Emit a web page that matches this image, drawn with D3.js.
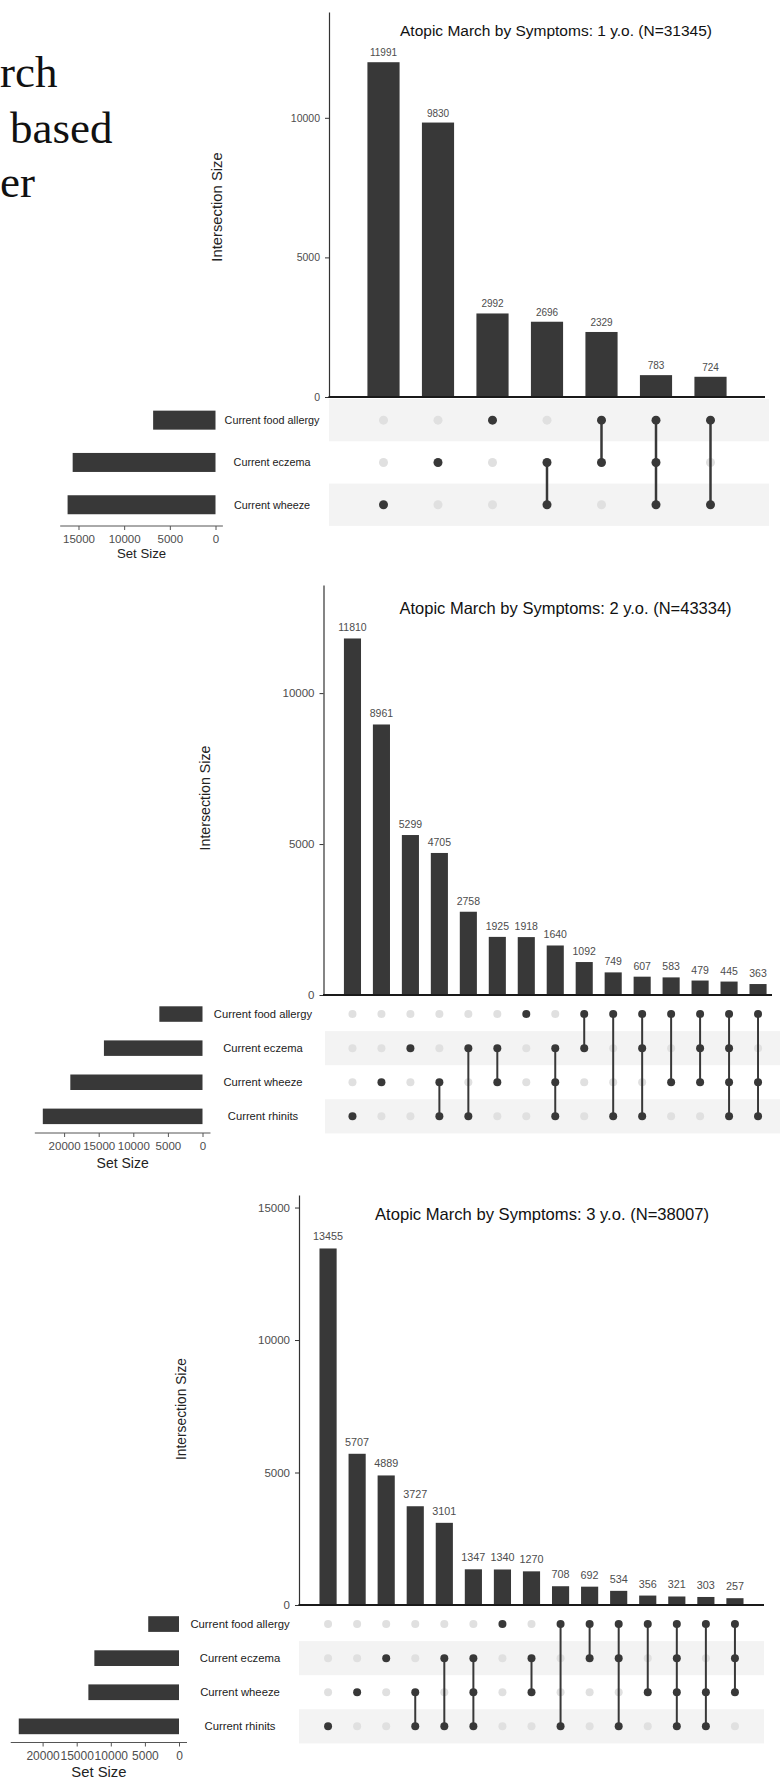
<!DOCTYPE html>
<html><head><meta charset="utf-8">
<script src="https://cdn.jsdelivr.net/npm/d3@7"></script>
<style>
body{margin:0;background:#fff}
svg{display:block}
text{font-family:"Liberation Sans",Arial,Helvetica,sans-serif}
</style>
</head><body>
<svg id="chart" width="780" height="1779"></svg>
<script>
// ---------- Data ----------
// Slide text fragments visible at the top-left
const slideText = ["rch", "based", "er"];

// Panel 1: 1 y.o.
const title1 = "Atopic March by Symptoms: 1 y.o. (N=31345)";
const setNames1 = ["Current food allergy", "Current eczema", "Current wheeze"];
const setKeys1 = ["F", "E", "W"];
const setSizes1 = [6828, 15638, 16194];
const combos1 = ["W", "E", "F", "EW", "FE", "FEW", "FW"];
const counts1 = [11991, 9830, 2992, 2696, 2329, 783, 724];
const yTicks1 = [0, 5000, 10000];
const setTicks1 = [0, 5000, 10000, 15000];

// Panel 2: 2 y.o.
const title2 = "Atopic March by Symptoms: 2 y.o. (N=43334)";
const setNames2 = ["Current food allergy", "Current eczema", "Current wheeze", "Current rhinits"];
const setKeys2 = ["F", "E", "W", "R"];
const setSizes2 = [6236, 14245, 19101, 23077];
const combos2 = ["R", "W", "E", "WR", "ER", "EW", "F", "EWR", "FE", "FR", "FER", "FW", "FEW", "FEWR", "FWR"];
const counts2 = [11810, 8961, 5299, 4705, 2758, 1925, 1918, 1640, 1092, 749, 607, 583, 479, 445, 363];
const yTicks2 = [0, 5000, 10000];
const setTicks2 = [0, 5000, 10000, 15000, 20000];

// Panel 3: 3 y.o.
const title3 = "Atopic March by Symptoms: 3 y.o. (N=38007)";
const setNames3 = ["Current food allergy", "Current eczema", "Current wheeze", "Current rhinits"];
const setKeys3 = ["F", "E", "W", "R"];
const setSizes3 = [4511, 12411, 13288, 23496];
const combos3 = ["R", "W", "E", "WR", "ER", "EWR", "F", "EW", "FR", "FE", "FER", "FW", "FEWR", "FWR", "FEW"];
const counts3 = [13455, 5707, 4889, 3727, 3101, 1347, 1340, 1270, 708, 692, 534, 356, 321, 303, 257];
const yTicks3 = [0, 5000, 10000, 15000];
const setTicks3 = [0, 5000, 10000, 15000, 20000];

// ---------- Drawing ----------
const svg = d3.select("#chart");
const DARK = "#383838", LIGHT = "#e0e0e0", STRIPE = "#f3f3f3", GREY_TXT = "#4d4d4d";

// slide fragments
const slideG = svg.append("g");
slideG.selectAll("text").data(slideText).join("text")
  .attr("x", (d, i) => [0, 10, 0][i])
  .attr("y", (d, i) => [87, 143, 197][i])
  .style("font-family", "'Liberation Serif','Times New Roman',serif")
  .attr("font-size", 45).attr("fill", "#111").text(d => d);

function drawPanel(D, L) {
  const g = svg.append("g");
  const n = D.counts.length;
  const M = d3.max(D.counts);
  const y = d3.scaleLinear().domain([0, M * 1.15]).range([L.yZero, L.yTop]);
  const x = d3.scalePoint().domain(d3.range(n)).range([L.axisX, L.plotRight]).padding(1);
  const bw = x.step() * 0.59;
  const rows = d3.scaleBand().domain(D.keys).range([L.rowTop, L.rowTop + L.rowH * D.keys.length]);
  const rc = k => rows(k) + rows.bandwidth() / 2;
  const nk = D.keys.length;

  // title
  g.append("text").attr("x", L.titleX).attr("y", L.titleY)
    .attr("font-size", L.titleSize).attr("fill", "#111").text(D.title);

  // y axis
  const ya = g.append("g").attr("transform", `translate(${L.axisX},0)`)
    .call(d3.axisLeft(y).tickValues(D.yTicks).tickSize(4).tickSizeOuter(0).tickPadding(5).tickFormat(d3.format("d")));
  ya.select(".domain").attr("stroke", "#333").attr("stroke-width", 1.2);
  ya.selectAll(".tick line").attr("stroke", "#333");
  ya.selectAll(".tick text").attr("font-size", L.tickSize).attr("fill", GREY_TXT).style("font-family", "'Liberation Sans',Arial,sans-serif");

  // y title
  g.append("text").attr("transform", `translate(${L.yTitleX},${L.yTitleY}) rotate(-90)`)
    .attr("text-anchor", "middle").attr("font-size", L.yTitleSize).attr("fill", "#222")
    .text("Intersection Size");

  // bars
  g.append("g").selectAll("rect").data(D.counts).join("rect")
    .attr("x", (d, i) => x(i) - bw / 2).attr("width", bw)
    .attr("y", d => y(d)).attr("height", d => L.yZero - y(d)).attr("fill", DARK);
  g.append("g").selectAll("text").data(D.counts).join("text")
    .attr("x", (d, i) => x(i)).attr("y", d => y(d) - L.labelGap)
    .attr("text-anchor", "middle").attr("font-size", L.labelSize).attr("fill", GREY_TXT)
    .text(d => d);

  // zero axis line
  g.append("line").attr("x1", L.axisX - 0.5).attr("x2", L.xAxisEnd)
    .attr("y1", L.yZero).attr("y2", L.yZero).attr("stroke", "#1a1a1a").attr("stroke-width", 2);

  // matrix stripes (shaded from bottom row)
  g.append("g").selectAll("rect").data(D.keys.filter((k, i) => (nk - 1 - i) % 2 === 0)).join("rect")
    .attr("x", L.matrixLeft).attr("width", L.matrixRight - L.matrixLeft)
    .attr("y", k => rows(k)).attr("height", rows.bandwidth()).attr("fill", STRIPE);

  // matrix dots + lines
  const mg = g.append("g");
  D.combos.forEach((c, i) => {
    const active = D.keys.filter(k => c.includes(k));
    D.keys.forEach(k => {
      mg.append("circle").attr("cx", x(i)).attr("cy", rc(k)).attr("r", L.dotR)
        .attr("fill", active.includes(k) ? DARK : LIGHT);
    });
    if (active.length > 1) {
      const ys = active.map(rc);
      mg.append("line").attr("x1", x(i)).attr("x2", x(i))
        .attr("y1", d3.min(ys)).attr("y2", d3.max(ys))
        .attr("stroke", DARK).attr("stroke-width", L.lineW);
    }
  });

  // set labels
  g.append("g").selectAll("text").data(D.names).join("text")
    .attr("x", L.setLabelX).attr("y", (d, i) => rc(D.keys[i]))
    .attr("dy", "0.35em").attr("text-anchor", "middle")
    .attr("font-size", L.setLabelSize).attr("fill", "#222").text(d => d);

  // set size bars
  const maxSet = d3.max(D.setSizes);
  const xs = d3.scaleLinear().domain([0, 5000]).range([L.setZero, L.setZero - L.set5000]);
  g.append("g").selectAll("rect").data(D.setSizes).join("rect")
    .attr("x", d => xs(d)).attr("width", d => L.setZero - xs(d))
    .attr("y", (d, i) => rc(D.keys[i]) - L.setBarH / 2).attr("height", L.setBarH)
    .attr("fill", DARK);

  const sa = g.append("g").attr("transform", `translate(0,${L.setAxisY})`)
    .call(d3.axisBottom(xs).tickValues(D.setTicks).tickSize(4).tickSizeOuter(0).tickPadding(5).tickFormat(d3.format("d")));
  sa.select(".domain").remove();
  sa.selectAll(".tick line").attr("stroke", "#555");
  sa.selectAll(".tick text").attr("font-size", L.setTickSize).attr("fill", GREY_TXT).style("font-family", "'Liberation Sans',Arial,sans-serif");
  g.append("line").attr("x1", xs(maxSet * 1.05)).attr("x2", xs(-maxSet * 0.05))
    .attr("y1", L.setAxisY).attr("y2", L.setAxisY).attr("stroke", "#555").attr("stroke-width", 1);
  g.append("text").attr("x", (xs(maxSet * 1.05) + xs(-maxSet * 0.05)) / 2).attr("y", L.setTitleY)
    .attr("text-anchor", "middle").attr("font-size", L.setTitleSize).attr("fill", "#222").text("Set Size");
}

drawPanel(
  {title: title1, names: setNames1, keys: setKeys1, setSizes: setSizes1, combos: combos1, counts: counts1, yTicks: yTicks1, setTicks: setTicks1},
  {yTop: 12, yZero: 397, axisX: 329, plotRight: 765, xAxisEnd: 765, matrixLeft: 329, matrixRight: 769,
   rowTop: 399, rowH: 42.3, dotR: 4.5, lineW: 2.5,
   titleX: 400, titleY: 36, titleSize: 15.5, tickSize: 10.5, yTitleX: 222, yTitleY: 207, yTitleSize: 14.8,
   labelSize: 10, labelGap: 6, setLabelX: 272, setLabelSize: 10.8,
   setZero: 215.5, set5000: 45.67, setBarH: 19, setAxisY: 526, setTickSize: 11.5, setTitleY: 558, setTitleSize: 13.2});

drawPanel(
  {title: title2, names: setNames2, keys: setKeys2, setSizes: setSizes2, combos: combos2, counts: counts2, yTicks: yTicks2, setTicks: setTicks2},
  {yTop: 585, yZero: 995, axisX: 323.5, plotRight: 787, xAxisEnd: 772, matrixLeft: 325, matrixRight: 780,
   rowTop: 997, rowH: 34.1, dotR: 4, lineW: 2,
   titleX: 399.5, titleY: 614, titleSize: 16.5, tickSize: 11.5, yTitleX: 210, yTitleY: 798, yTitleSize: 14.2,
   labelSize: 10.5, labelGap: 7, setLabelX: 263, setLabelSize: 11.2,
   setZero: 202.5, set5000: 34.6, setBarH: 15.5, setAxisY: 1133, setTickSize: 11.5, setTitleY: 1168, setTitleSize: 14});

drawPanel(
  {title: title3, names: setNames3, keys: setKeys3, setSizes: setSizes3, combos: combos3, counts: counts3, yTicks: yTicks3, setTicks: setTicks3},
  {yTop: 1195, yZero: 1605, axisX: 299, plotRight: 764, xAxisEnd: 764, matrixLeft: 299, matrixRight: 764,
   rowTop: 1607, rowH: 34.1, dotR: 4, lineW: 2,
   titleX: 375, titleY: 1220, titleSize: 16.6, tickSize: 11.5, yTitleX: 186, yTitleY: 1409, yTitleSize: 13.8,
   labelSize: 10.8, labelGap: 8, setLabelX: 240, setLabelSize: 11.3,
   setZero: 179, set5000: 34.1, setBarH: 15.7, setAxisY: 1742.5, setTickSize: 12, setTitleY: 1777, setTitleSize: 14.8});
</script>
</body></html>
